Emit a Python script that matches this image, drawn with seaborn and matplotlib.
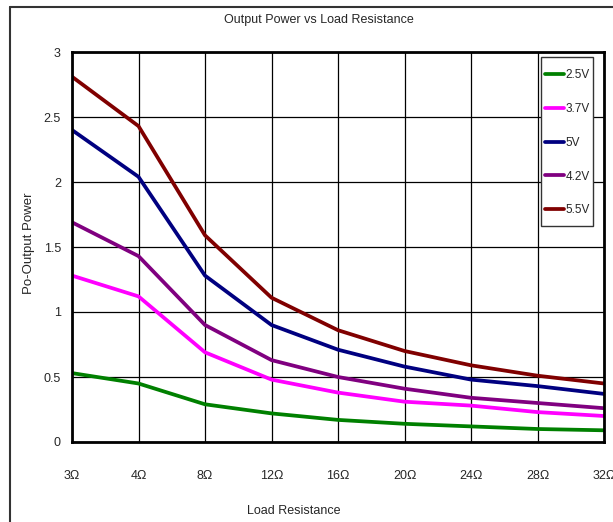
import matplotlib
matplotlib.use("Agg")
import matplotlib.pyplot as plt
import seaborn as sns
import pandas as pd
from matplotlib.lines import Line2D
from matplotlib.patches import Rectangle

loads = ["3Ω", "4Ω", "8Ω", "12Ω", "16Ω", "20Ω", "24Ω", "28Ω", "32Ω"]
v2_5 = [0.53, 0.45, 0.29, 0.22, 0.17, 0.14, 0.12, 0.10, 0.09]
v3_7 = [1.28, 1.12, 0.69, 0.48, 0.38, 0.31, 0.28, 0.23, 0.20]
v5_0 = [2.40, 2.04, 1.28, 0.90, 0.71, 0.58, 0.48, 0.43, 0.37]
v4_2 = [1.69, 1.43, 0.90, 0.63, 0.50, 0.41, 0.34, 0.30, 0.26]
v5_5 = [2.81, 2.43, 1.59, 1.11, 0.86, 0.70, 0.59, 0.51, 0.45]
series_names = ["2.5V", "3.7V", "5V", "4.2V", "5.5V"]
series_values = [v2_5, v3_7, v5_0, v4_2, v5_5]
colors = ["#008000", "#FF00FF", "#000080", "#800080", "#800000"]
title = "Output Power vs Load Resistance"
xlabel = "Load Resistance"
ylabel = "Po-Output Power"

rows = []
for name, vals in zip(series_names, series_values):
    for i, (ld, v) in enumerate(zip(loads, vals)):
        rows.append({"pos": i, "load": ld, "power": v, "series": name})
df = pd.DataFrame(rows)

sns.set_style("white")
plt.rcParams["font.family"] = ["Liberation Sans", "DejaVu Sans"]

W, H = 613, 522
AX_L, AX_R, AX_T, AX_B = 72, 604, 52, 442
AW, AH = AX_R - AX_L, AX_B - AX_T

def axx(px):
    return (px - AX_L) / AW

def axy(py):
    return (AX_B - py) / AH

fig = plt.figure(figsize=(W / 100, H / 100), dpi=100)
ax = fig.add_axes([AX_L / W, (H - AX_B) / H, AW / W, AH / H])

sns.lineplot(data=df, x="pos", y="power", hue="series", hue_order=series_names,
             palette=colors, linewidth=2.7, ax=ax, legend=True)

ax.set_xlim(0, len(loads) - 1)
ax.set_ylim(0, 3)
ax.set_xticks(range(len(loads)))
ax.set_xticklabels(loads, fontsize=9)
ax.set_yticks([0, 0.5, 1, 1.5, 2, 2.5, 3])
ax.set_yticklabels(["0", "0.5", "1", "1.5", "2", "2.5", "3"], fontsize=9)
ax.tick_params(axis="x", length=0, pad=20)
ax.tick_params(axis="y", length=0, pad=8)
ax.grid(True, color="black", linewidth=0.9)
ax.set_axisbelow(True)
for sp in ax.spines.values():
    sp.set_color("black")
    sp.set_linewidth(2.0)
    sp.set_visible(True)

ax.set_xlabel(xlabel, fontsize=9)
ax.xaxis.set_label_coords(axx(294), axy(505))
ax.set_ylabel(ylabel, fontsize=9.5)
ax.yaxis.set_label_coords(axx(35), axy(243))

fig.text(319 / W, 1 - 20 / H, title, ha="center", va="center", fontsize=9)

# legend frame drawn at the reference position
ax.add_patch(Rectangle((axx(541), axy(226)), axx(593) - axx(541), axy(57) - axy(226),
                       transform=ax.transAxes, facecolor="white", edgecolor="#333333",
                       linewidth=1.0, zorder=4, clip_on=False))
leg = ax.legend(loc="upper left", bbox_to_anchor=(axx(545), axy(69)),
                borderaxespad=0, borderpad=0, fontsize=8.5, frameon=False,
                labelspacing=1.85, handlelength=1.6, handletextpad=0.15)
leg.set_zorder(5)
for h in leg.get_lines():
    h.set_linewidth(2.7)

fig.add_artist(Line2D([10 / W, 10 / W], [0, 1 - 7 / H], color="#333333",
                      linewidth=1.5, transform=fig.transFigure))
fig.add_artist(Line2D([10 / W, 1], [1 - 7 / H, 1 - 7 / H], color="#333333",
                      linewidth=1.5, transform=fig.transFigure))

fig.savefig("out.png", dpi=100)
